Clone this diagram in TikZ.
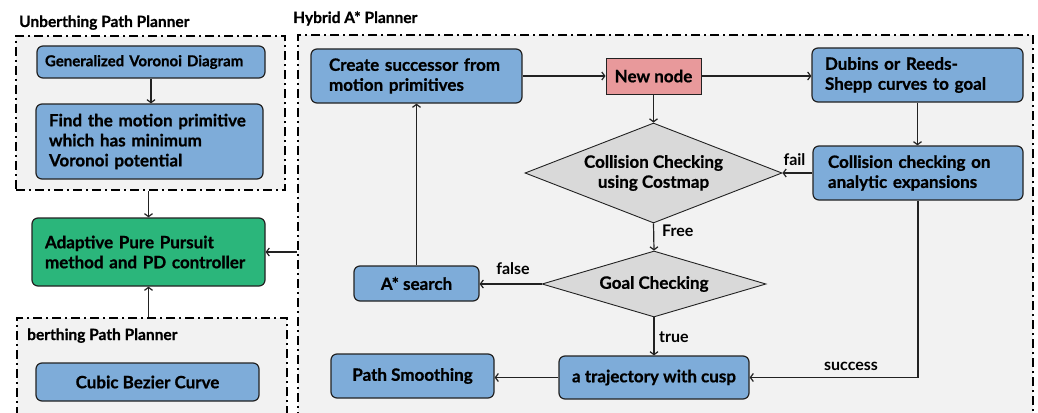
\documentclass[tikz,border=0pt]{standalone}
\usepackage{fontspec}
\setmainfont{Lato}[BoldFeatures={FakeBold=0.8}]
\newfontfamily\labf{Lato}
\usetikzlibrary{shapes.geometric,arrows.meta}
\definecolor{bgc}{HTML}{F2F2F2}
\definecolor{blu}{HTML}{7EACD9}
\definecolor{grn}{HTML}{2BB67B}
\definecolor{pnk}{HTML}{E8999B}
\definecolor{dgr}{HTML}{D9D9D9}
\definecolor{edgec}{HTML}{222222}
\tikzset{
  container/.style={draw=black, line width=1.8pt, dash pattern=on 9pt off 4pt on 2pt off 4pt, fill=bgc, inner sep=0pt},
  box/.style={draw=edgec, line width=1.2pt, rounded corners=6pt, fill=blu, font=\fontsize{17}{20}\selectfont\bfseries, inner ysep=0pt, align=left},
  cbox/.style={box, align=center, inner xsep=0pt},
  dia/.style={diamond, draw=edgec, line width=0.9pt, fill=dgr, inner sep=0pt, align=center, font=\fontsize{17}{20}\selectfont\bfseries},
  arr/.style={draw=edgec, line width=1.2pt, -{Straight Barb[length=3pt,width=8pt]}},
  lab/.style={font=\fontsize{16}{19}\labf\bfseries, inner sep=0pt},
  ttl/.style={font=\fontsize{15.5}{18}\selectfont\bfseries, inner sep=0pt, anchor=base west}
}
\begin{document}
\begin{tikzpicture}[x=1pt,y=-1pt]
\useasboundingbox (0,0) rectangle (1038,412);
% containers
\node[container, minimum width=269pt, minimum height=154pt] (unb) at (150.5,113) {};
\node[container, minimum width=270pt, minimum height=112pt] (berth) at (152,374) {};
\node[container, minimum width=735pt, minimum height=395pt] (hyb) at (665.5,232.5) {};
% titles
\node[ttl] (tunb) at (19,27) {Unberthing Path Planner};
\node[ttl] (thyb) at (293,23) {Hybrid A* Planner};
\node[ttl] (tberth) at (27,340) {berthing Path Planner};
% left boxes
\node[box, text width=212pt, inner xsep=8pt, minimum height=32pt, font=\fontsize{15}{17}\selectfont\bfseries] (gvd) at (151,62) {Generalized Voronoi Diagram};
\node[box, text width=201pt, inner xsep=13pt, minimum height=75pt] (find) at (149.5,141.5) {Find the motion primitive\\which has minimum\\Voronoi potential};
\node[box, fill=grn, text width=207pt, inner xsep=13pt, minimum height=68pt] (adapt) at (148.5,252) {Adaptive Pure Pursuit\\method and PD controller};
\node[cbox, minimum width=223pt, minimum height=38pt] (cubic) at (147.5,382) {Cubic Bezier Curve};
% hybrid boxes
\node[box, text width=175pt, inner xsep=18pt, minimum height=54pt] (create) at (416.5,76) {\mbox{Create successor from}\\motion primitives};
\node[cbox, rounded corners=0pt, fill=pnk, line width=0.9pt, minimum width=95pt, minimum height=36pt] (newnode) at (653.5,76) {New node};
\node[box, text width=185pt, inner xsep=13pt, minimum height=54pt] (dubins) at (917.5,75) {Dubins or Reeds-\\Shepp curves to goal};
\node[box, text width=180pt, inner xsep=15pt, minimum height=54pt] (colan) at (918,173) {Collision checking on\\analytic expansions};
\node[dia, minimum width=257pt, minimum height=100pt, shape aspect=2.57] (cc) at (653.5,173) {Collision Checking\\using Costmap};
\node[dia, minimum width=224pt, minimum height=66pt, shape aspect=3.4] (goal) at (654,284) {Goal Checking};
\node[cbox, minimum width=125pt, minimum height=35pt] (astar) at (416.5,283.5) {A* search};
\node[cbox, minimum width=190pt, minimum height=43pt] (traj) at (654,377.5) {a trajectory with cusp};
\node[cbox, minimum width=163pt, minimum height=44pt] (smooth) at (412.5,376) {Path Smoothing};
% connectors
\draw[arr] (gvd.south) -- (gvd.south |- find.north);
\draw[arr] (adapt.north |- unb.south) -- (adapt.north);
\draw[arr] (adapt.south |- berth.north) -- (adapt.south);
\draw[arr] (adapt.east -| hyb.west) -- (adapt.east);
\draw[arr] (create.east) -- (newnode.west);
\draw[arr] (newnode.east) -- (newnode.east -| dubins.west);
\draw[arr] (dubins.south) -- (dubins.south |- colan.north);
\draw[arr] (colan.west) -- (cc.east);
\draw[arr] (newnode.south) -- (cc.north);
\draw[arr] (cc.south) -- (goal.north);
\draw[arr] (goal.west) -- (goal.west -| astar.east);
\draw[arr] (astar.north) -- (astar.north |- create.south);
\draw[arr] (goal.south) -- (traj.north);
\draw[arr] (traj.west) -- (traj.west -| smooth.east);
\draw[arr] (colan.south) |- (traj.east);
% labels
\node[lab] (lfail) at (794.5,160) {fail};
\node[lab, anchor=west] (lfree) at (662,231) {Free};
\node[lab] (lfalse) at (513,269) {false};
\node[lab, anchor=west] (ltrue) at (659,337) {true};
\node[lab] (lsucc) at (851,366) {success};
\end{tikzpicture}
\end{document}
